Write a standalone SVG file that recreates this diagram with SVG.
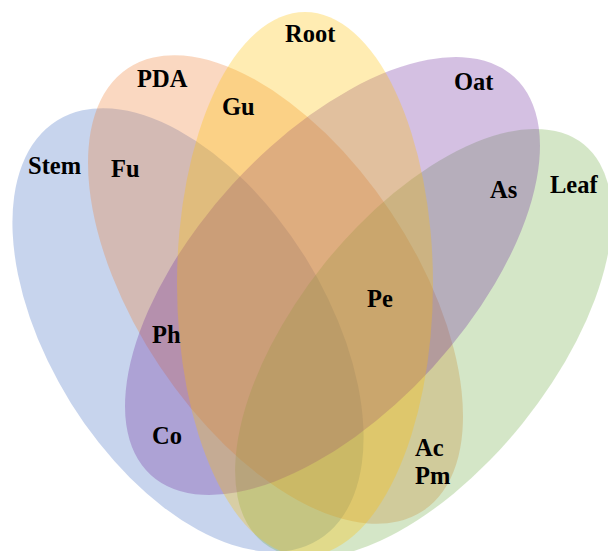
<svg xmlns="http://www.w3.org/2000/svg" width="608" height="551" viewBox="0 0 608 551">
<style>
.set{fill-opacity:0.3;stroke:none}
.lbl{font-family:"Liberation Serif","Times New Roman",serif;font-weight:bold;font-size:24.5px;fill:#000}
</style>
<rect width="608" height="551" fill="#ffffff"/>
<g id="sets">
<g id="stem"><ellipse class="set" cx="188" cy="330" rx="247" ry="138" transform="rotate(58 188 330)" fill="#4472C4"/></g>
<g id="pda"><ellipse class="set" cx="275.5" cy="289.5" rx="266" ry="139" transform="rotate(56.3 275.5 289.5)" fill="#ED7D31"/></g>
<g id="leaf"><ellipse class="set" cx="423.5" cy="343.5" rx="255.6" ry="127.3" transform="rotate(-51.2 423.5 343.5)" fill="#70AD47"/></g>
<g id="oat"><ellipse class="set" cx="332.5" cy="276" rx="269.5" ry="135.6" transform="rotate(-47.6 332.5 276)" fill="#7030A0"/></g>
<g id="root"><ellipse class="set" cx="305" cy="284" rx="128" ry="272" fill="#FFC000"/></g>
</g>
<g id="connectors"></g>
<g id="labels">
<text class="lbl" x="285" y="42">Root</text>
<text class="lbl" x="137" y="87">PDA</text>
<text class="lbl" x="222" y="115">Gu</text>
<text class="lbl" x="454" y="90">Oat</text>
<text class="lbl" x="28" y="174">Stem</text>
<text class="lbl" x="111" y="177">Fu</text>
<text class="lbl" x="490" y="198">As</text>
<text class="lbl" x="550" y="193">Leaf</text>
<text class="lbl" x="367" y="307">Pe</text>
<text class="lbl" x="152" y="343">Ph</text>
<text class="lbl" x="152" y="444">Co</text>
<text class="lbl" x="415" y="456">Ac</text>
<text class="lbl" x="415" y="484">Pm</text>
</g>
</svg>
